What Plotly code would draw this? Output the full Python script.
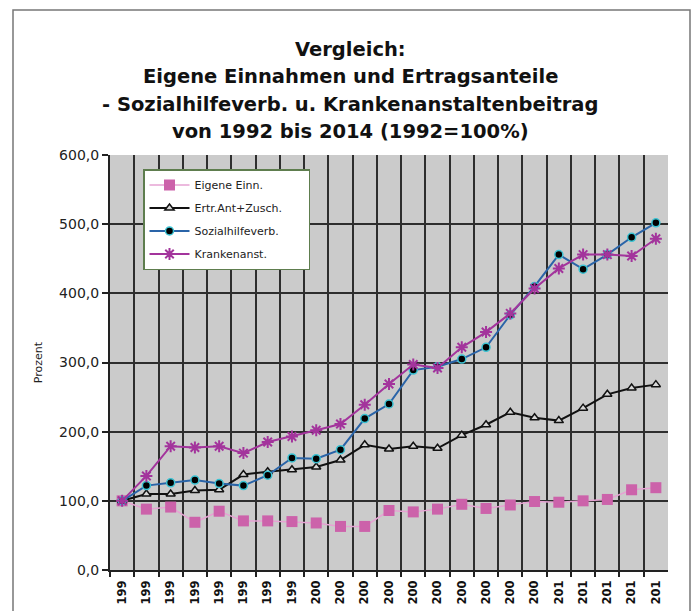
import plotly.graph_objects as go

years = list(range(1992, 2015))
tick_labels = ["199"] * 8 + ["200"] * 10 + ["201"] * 5

eigene = [100, 88, 91, 69, 85, 71, 71, 70, 68, 63, 63, 86, 84, 88, 95, 89, 94, 99, 98, 100, 102, 116, 119]
ertrag = [100, 110, 110, 115, 116, 138, 142, 145, 149, 159, 181, 175, 179, 176, 195, 210, 228, 220, 216, 234, 254, 263, 268]
sozial = [100, 122, 126, 130, 125, 122, 137, 162, 161, 174, 219, 240, 289, 294, 305, 322, 369, 410, 456, 435, 456, 481, 502]
kranken = [100, 136, 179, 177, 179, 169, 185, 193, 202, 211, 239, 269, 297, 292, 322, 344, 371, 407, 436, 456, 456, 454, 479]

series_names = ["Eigene Einn.", "Ertr.Ant+Zusch.\u00a0\u00a0\u00a0\u00a0\u00a0\u00a0\u200b", "Sozialhilfeverb.", "Krankenanst."]
title_lines = ["Vergleich:", "Eigene Einnahmen und Ertragsanteile",
               "- Sozialhilfeverb. u. Krankenanstaltenbeitrag", "von 1992 bis 2014 (1992=100%)"]

FONT = "DejaVu Sans, Liberation Sans, Arial, sans-serif"

# The page body adds an 8 px offset; figure is sized/margined to compensate.
OFF = 8
W, H = 699 - OFF, 611 - OFF
PL, PR, PT, PB = 110, 668, 155, 570  # plot area in reference pixel coords


def px(xr):
    return (xr - PL) / (PR - PL)


def py(yr):
    return (PB - yr) / (PB - PT)


fig = go.Figure()
fig.add_trace(go.Scatter(
    x=years, y=eigene, name=series_names[0], mode="lines+markers",
    line=dict(color="#e6a3d3", width=1.5),
    marker=dict(symbol="square", size=11, color="#cc62aa", line=dict(width=0)),
    legendgroup="a"))
fig.add_trace(go.Scatter(
    x=years, y=ertrag, name=series_names[1], mode="lines+markers",
    line=dict(color="#111111", width=2),
    marker=dict(symbol="triangle-up", size=8, color="#d8d8d8", line=dict(color="#111111", width=1.5)),
    legendgroup="b"))
fig.add_trace(go.Scatter(
    x=years, y=sozial, name=series_names[2], mode="lines+markers",
    line=dict(color="#2a64a8", width=2),
    marker=dict(symbol="circle", size=8, color="#000000", line=dict(color="#3cc4d4", width=1.5)),
    legendgroup="c"))
fig.add_trace(go.Scatter(
    x=years, y=kranken, name=series_names[3], mode="lines+markers",
    line=dict(color="#a3349c", width=2),
    marker=dict(symbol="asterisk-open", size=10, color="#a3349c", line=dict(color="#a3349c", width=2)),
    legendgroup="d"))

boundaries = [y + 0.5 for y in range(1991, 2014)]

annotations = []
for i, line in enumerate(title_lines):
    annotations.append(dict(
        text=line, xref="paper", yref="paper", x=px(350), y=py(50 + 27 * i),
        xanchor="center", yanchor="middle", showarrow=False,
        font=dict(family=FONT, size=19.5, color="#111111", weight="bold")))

fig.update_layout(
    width=W, height=H,
    margin=dict(l=PL - OFF, r=W - (PR - OFF), t=PT - OFF, b=H - (PB - OFF), autoexpand=False),
    paper_bgcolor="white",
    plot_bgcolor="#cbcbcb",
    separators=", ",
    font=dict(family=FONT, color="#111111"),
    annotations=annotations,
    showlegend=True,
    legend=dict(
        x=px(143), y=py(169), xanchor="left", yanchor="top",
        bgcolor="white", bordercolor="#5e7d4e", borderwidth=1.5,
        font=dict(family=FONT, size=11, color="#222222"),
        tracegroupgap=4, traceorder="grouped",
        itemwidth=40,
    ),
    xaxis=dict(
        range=[1991.5, 2014.5], automargin=False,
        tickmode="array", tickvals=years, ticktext=tick_labels,
        tickangle=-90, ticks="", ticklabelstandoff=4,
        tickfont=dict(family=FONT, size=11.5, color="#111111", weight="bold"),
        showgrid=False, zeroline=False,
        showline=True, linecolor="#222222", linewidth=2,
        minor=dict(tickmode="array", tickvals=boundaries, showgrid=True,
                   gridcolor="#2e2e2e", gridwidth=2, ticks="outside",
                   ticklen=5, tickcolor="#222222", tickwidth=2),
    ),
    yaxis=dict(
        range=[0, 600], dtick=100, tick0=0, tickformat=".1f", automargin=False,
        showgrid=True, gridcolor="#2e2e2e", gridwidth=2,
        zeroline=False,
        showline=True, linecolor="#222222", linewidth=2,
        ticks="outside", ticklen=6, tickcolor="#222222", tickwidth=2,
        tickfont=dict(family=FONT, size=14, color="#222222"),
        title=dict(text="Prozent", standoff=14, font=dict(family=FONT, size=11, color="#222222")),
    ),
    shapes=[dict(type="rect", xref="paper", yref="paper",
                 x0=px(13), x1=px(690), y0=py(640), y1=py(10),
                 line=dict(color="#777777", width=1.5), fillcolor="rgba(0,0,0,0)", layer="below")],
)

fig.write_html("out.html")
